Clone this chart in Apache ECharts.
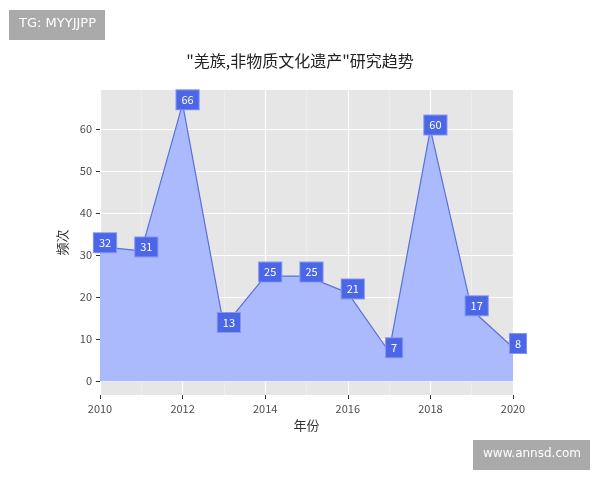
<!DOCTYPE html>
<html><head><meta charset="utf-8">
<script src="https://cdn.jsdelivr.net/npm/echarts@6/dist/echarts.min.js"></script>
<style>html,body{margin:0;padding:0;background:#fff}#c{width:600px;height:480px}</style>
</head><body><div id="c"></div>
<script>
const years = [2010, 2011, 2012, 2013, 2014, 2015, 2016, 2017, 2018, 2019, 2020];
const counts = [32, 31, 66, 13, 25, 25, 21, 7, 60, 17, 8];
const yTicks = [0, 10, 20, 30, 40, 50, 60];
const xTicks = [2010, 2012, 2014, 2016, 2018, 2020];
const titleText = '"羌族,非物质文化遗产"研究趋势';
const xName = '年份';
const yName = '频次';

const font = '"Noto Sans CJK SC", "Noto Sans", sans-serif';
const chart = echarts.init(document.getElementById('c'));
chart.setOption({
  animation: false,
  textStyle: { fontFamily: font },
  title: { text: titleText, left: 'center', top: 48, textStyle: { fontSize: 16, fontWeight: 'normal', color: '#222', fontFamily: font } },
  grid: { left: 100, right: 87, top: 90, bottom: 85, show: true, backgroundColor: '#e6e6e6', borderWidth: 0 },
  xAxis: {
    type: 'value', min: 2010, max: 2020, interval: 2,
    name: xName, nameLocation: 'middle', nameGap: 24,
    nameTextStyle: { fontSize: 13, color: '#333' },
    axisLine: { show: true, onZero: false, lineStyle: { color: 'rgba(0,0,0,0)' } },
    axisTick: { show: true, length: 4, lineStyle: { color: '#333', width: 1 } },
    axisLabel: { color: '#4d4d4d', fontSize: 11, margin: 8, formatter: v => String(v) },
    splitLine: { show: true, lineStyle: { color: '#fff', width: 1.2 } },
    minorSplitLine: { show: true, lineStyle: { color: '#f2f2f2', width: 0.6 } },
    minorTick: { show: false, splitNumber: 2 }
  },
  yAxis: {
    type: 'value', min: -3.3, max: 69.3,
    name: yName, nameLocation: 'middle', nameGap: 27, nameRotate: 90,
    nameTextStyle: { fontSize: 13, color: '#333' },
    axisLine: { show: true, onZero: false, lineStyle: { color: 'rgba(0,0,0,0)' } },
    axisTick: { show: true, length: 4, lineStyle: { color: '#333', width: 1 }, customValues: yTicks },
    axisLabel: { color: '#4d4d4d', fontSize: 11, margin: 8, customValues: yTicks },
    splitLine: { show: true, lineStyle: { color: '#fff', width: 1.2 } },
    minorSplitLine: { show: false }
  },
  series: [{
    type: 'line',
    data: years.map((y, i) => [y, counts[i]]),
    symbol: 'circle', symbolSize: 1,
    itemStyle: { color: '#5b70d8' },
    lineStyle: { color: '#5b70d8', width: 1.2 },
    areaStyle: { color: '#abb9fd', opacity: 1, origin: 0 },
    label: {
      show: true, position: 'inside', offset: [5, -4], color: '#fff', fontSize: 11,
      backgroundColor: '#4c66e8', padding: [4, 5, 4, 5], borderColor: '#8797ee', borderWidth: 1
    },
    z: 3
  }],
  graphic: [
    { type: 'rect', left: 9, top: 10, shape: { width: 96, height: 30 }, style: { fill: '#aaaaaa' } },
    { type: 'text', left: 19, top: 17, style: { text: 'TG: MYYJJPP', fill: '#fff', font: '13px "DejaVu Sans", sans-serif' } },
    { type: 'rect', left: 473, top: 440, shape: { width: 117, height: 30 }, style: { fill: '#aaaaaa' } },
    { type: 'text', left: 483, top: 448, style: { text: 'www.annsd.com', fill: '#fff', font: '12px "DejaVu Sans", sans-serif' } }
  ]
});
</script></body></html>
